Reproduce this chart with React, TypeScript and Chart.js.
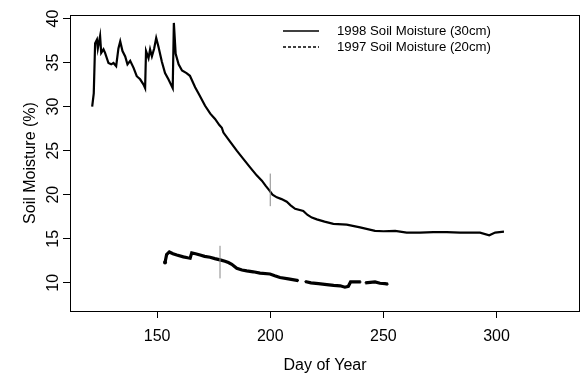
import React, { useEffect, useRef } from "react";
import { Chart, registerables } from "chart.js";

Chart.register(...registerables);

// 1998 soil moisture (30cm)
const days1998 = [
  121.3, 122.0, 122.6, 123.4, 123.8, 124.8, 125.3, 126.3, 127.0, 128.5, 129.7, 130.7, 131.9,
  132.9, 133.7, 134.7, 135.9, 136.9, 138.1, 139.6, 141.0, 142.5, 144.0, 144.7, 145.1, 146.2,
  146.9, 147.7, 148.7, 149.6, 150.6, 152.1, 153.5, 155.0, 156.9, 157.4, 158.2, 159.5, 161.0,
  163.0, 164.5, 166.8, 168.5, 171.2, 173.5, 175.6, 177.5, 178.6, 179.3, 182.0, 185.2, 188.0,
  191.1, 194.0, 196.3, 198.0, 199.6, 201.0, 202.9, 205.0, 207.3, 209.0, 211.0, 214.6, 216.5,
  218.4, 220.6, 224.0, 227.9, 233.8, 239.7, 246.3, 250.0, 255.2, 260.3, 266.2, 272.1, 278.0,
  283.9, 292.7, 296.8, 299.4, 303.3,
];
const moisture1998 = [
  30.0, 31.5, 37.2, 37.6, 36.6, 38.0, 36.1, 36.5, 36.1, 34.95, 34.8, 34.95, 34.6,
  36.6, 37.4, 36.3, 35.7, 34.8, 35.2, 34.4, 33.45, 33.1, 32.5, 32.1, 36.3, 35.5,
  36.5, 35.7, 36.6, 37.8, 36.8, 35.1, 33.8, 33.1, 32.1, 39.5, 36.0, 34.8, 34.1,
  33.8, 33.5, 32.2, 31.4, 30.1, 29.2, 28.6, 27.9, 27.6, 27.05, 26.1, 25.0, 24.1,
  23.1, 22.2, 21.6, 21.0, 20.5, 20.0, 19.7, 19.5, 19.2, 18.8, 18.4, 18.15, 17.7,
  17.4, 17.2, 16.95, 16.7, 16.6, 16.3, 15.9, 15.85, 15.9, 15.7, 15.7, 15.75, 15.75,
  15.7, 15.7, 15.4, 15.7, 15.8,
];

// 1997 soil moisture (20cm)
const days1997 = [
  153.5, 154.2, 155.4, 157.0, 158.7, 161.6, 163.5, 164.6, 165.3, 167.0, 169.0, 171.0, 173.4,
  175.5, 177.8, 180.0, 181.5, 183.0, 185.2, 187.5, 189.6, 192.5, 195.5, 199.9, 202.0, 204.3,
  208.0, 212.4, 213.9, 215.4, 218.0, 221.3, 225.0, 228.0, 230.9, 233.0, 234.5, 235.5, 237.5,
  240.0, 241.0, 242.0, 246.3, 248.5, 250.7, 252.0,
];
const moisture1997 = [
  12.3, 13.2, 13.5, 13.3, 13.15, 12.95, 12.85, 12.8, 13.4, 13.3, 13.15, 13.0, 12.9,
  12.75, 12.6, 12.45, 12.3, 12.1, 11.65, 11.45, 11.35, 11.25, 11.1, 11.0, 10.8, 10.6,
  10.45, 10.25, null, 10.15, 10.0, 9.9, 9.8, 9.7, 9.66, 9.5, 9.6, 10.1, 10.1,
  10.1, null, 10.0, 10.1, 9.95, 9.9, 9.85,
];

// vertical marker bars
const markerDays = [200, 177.8];
const markerLow = [18.7, 10.5];
const markerHigh = [22.4, 14.2];

const xTicks = [150, 200, 250, 300];
const yTicks = [10, 15, 20, 25, 30, 35, 40];

const legendLabels = ["1998 Soil Moisture (30cm)", "1997 Soil Moisture (20cm)"];

const FONT = "'Liberation Sans', Arial, sans-serif";

export default function App() {
  const ref = useRef<HTMLCanvasElement | null>(null);

  useEffect(() => {
    if (!ref.current) return;
    const boxPlugin = {
      id: "boxAndLegend",
      afterDraw(chart: any) {
        const { ctx, chartArea } = chart;
        ctx.save();
        ctx.strokeStyle = "#000";
        ctx.lineWidth = 1;
        ctx.setLineDash([]);
        ctx.strokeRect(chartArea.left + 0.5, chartArea.top + 0.5, chartArea.right - chartArea.left - 1, chartArea.bottom - chartArea.top);
        // legend
        const lx0 = 283, lx1 = 319, tx = 337;
        const ly = [31, 47];
        ctx.lineWidth = 1.5;
        ctx.beginPath();
        ctx.moveTo(lx0, ly[0]);
        ctx.lineTo(lx1, ly[0]);
        ctx.stroke();
        ctx.setLineDash([3, 2]);
        ctx.beginPath();
        ctx.moveTo(lx0, ly[1]);
        ctx.lineTo(lx1, ly[1]);
        ctx.stroke();
        ctx.setLineDash([]);
        ctx.fillStyle = "#000";
        ctx.font = `13.2px ${FONT}`;
        ctx.textBaseline = "middle";
        ctx.textAlign = "left";
        ctx.fillText(legendLabels[0], tx, ly[0]);
        ctx.fillText(legendLabels[1], tx, ly[1]);
        ctx.restore();
      },
    };

    const markerSets = markerDays.map((d, i) => ({
      label: "marker" + i,
      data: [
        { x: d, y: markerLow[i] },
        { x: d, y: markerHigh[i] },
      ],
      borderColor: "#888",
      borderWidth: 1,
      pointRadius: 0,
      showLine: true,
    }));

    const chart = new Chart(ref.current, {
      type: "scatter",
      data: {
        datasets: [
          ...markerSets,
          {
            label: legendLabels[0],
            data: days1998.map((d, i) => ({ x: d, y: moisture1998[i] })),
            borderColor: "#000",
            borderWidth: 2.2,
            pointRadius: 0,
            showLine: true,
            tension: 0,
          },
          {
            label: legendLabels[1],
            data: days1997.map((d, i) => ({ x: d, y: moisture1997[i] as any })),
            borderColor: "#000",
            backgroundColor: "#000",
            borderWidth: 3.2,
            pointRadius: days1997.map((_, i) => (i === 0 ? 2 : 0.8)),
            pointBorderWidth: 0,
            showLine: true,
            spanGaps: false,
          },
        ],
      },
      options: {
        animation: false,
        responsive: false,
        maintainAspectRatio: false,
        layout: { autoPadding: false, padding: { top: 15, right: 0, left: 0, bottom: 0 } },
        plugins: { legend: { display: false }, tooltip: { enabled: false } },
        scales: {
          x: {
            type: "linear",
            min: 111.5,
            max: 336.9,
            afterBuildTicks: (s: any) => {
              s.ticks = xTicks.map((v) => ({ value: v }));
            },
            afterFit: (s: any) => {
              s.height = 65;
              s.paddingLeft = 0;
              s.paddingRight = 0;
            },
            grid: { drawOnChartArea: false, drawTicks: true, tickLength: 7, color: "#000" },
            border: { display: false },
            ticks: {
              color: "#000",
              font: { family: FONT, size: 16 },
              padding: 9,
              maxRotation: 0,
              minRotation: 0,
            },
            title: {
              display: true,
              text: "Day of Year",
              color: "#000",
              font: { family: FONT, size: 16 },
              padding: { top: 0, bottom: 1 },
            },
          },
          y: {
            type: "linear",
            min: 6.8,
            max: 40.4,
            afterBuildTicks: (s: any) => {
              s.ticks = yTicks.map((v) => ({ value: v }));
            },
            afterFit: (s: any) => {
              s.width = 70;
              s.paddingTop = 0;
              s.paddingBottom = 0;
            },
            grid: { drawOnChartArea: false, drawTicks: true, tickLength: 7, color: "#000" },
            border: { display: false },
            ticks: {
              color: "#000",
              font: { family: FONT, size: 16 },
              padding: 1,
              minRotation: 90,
              maxRotation: 90,
              crossAlign: "center",
            },
            title: {
              display: true,
              text: "Soil Moisture (%)",
              color: "#000",
              font: { family: FONT, size: 16 },
              padding: { top: 21, bottom: 0 },
            },
          },
        },
      },
      plugins: [boxPlugin],
    } as any);
    return () => chart.destroy();
  }, []);

  return (
    <div style={{ position: "fixed", left: 0, top: 0, width: 580, height: 376, background: "#fff" }}>
      <canvas ref={ref} width={580} height={376} style={{ width: 580, height: 376 }} />
    </div>
  );
}
